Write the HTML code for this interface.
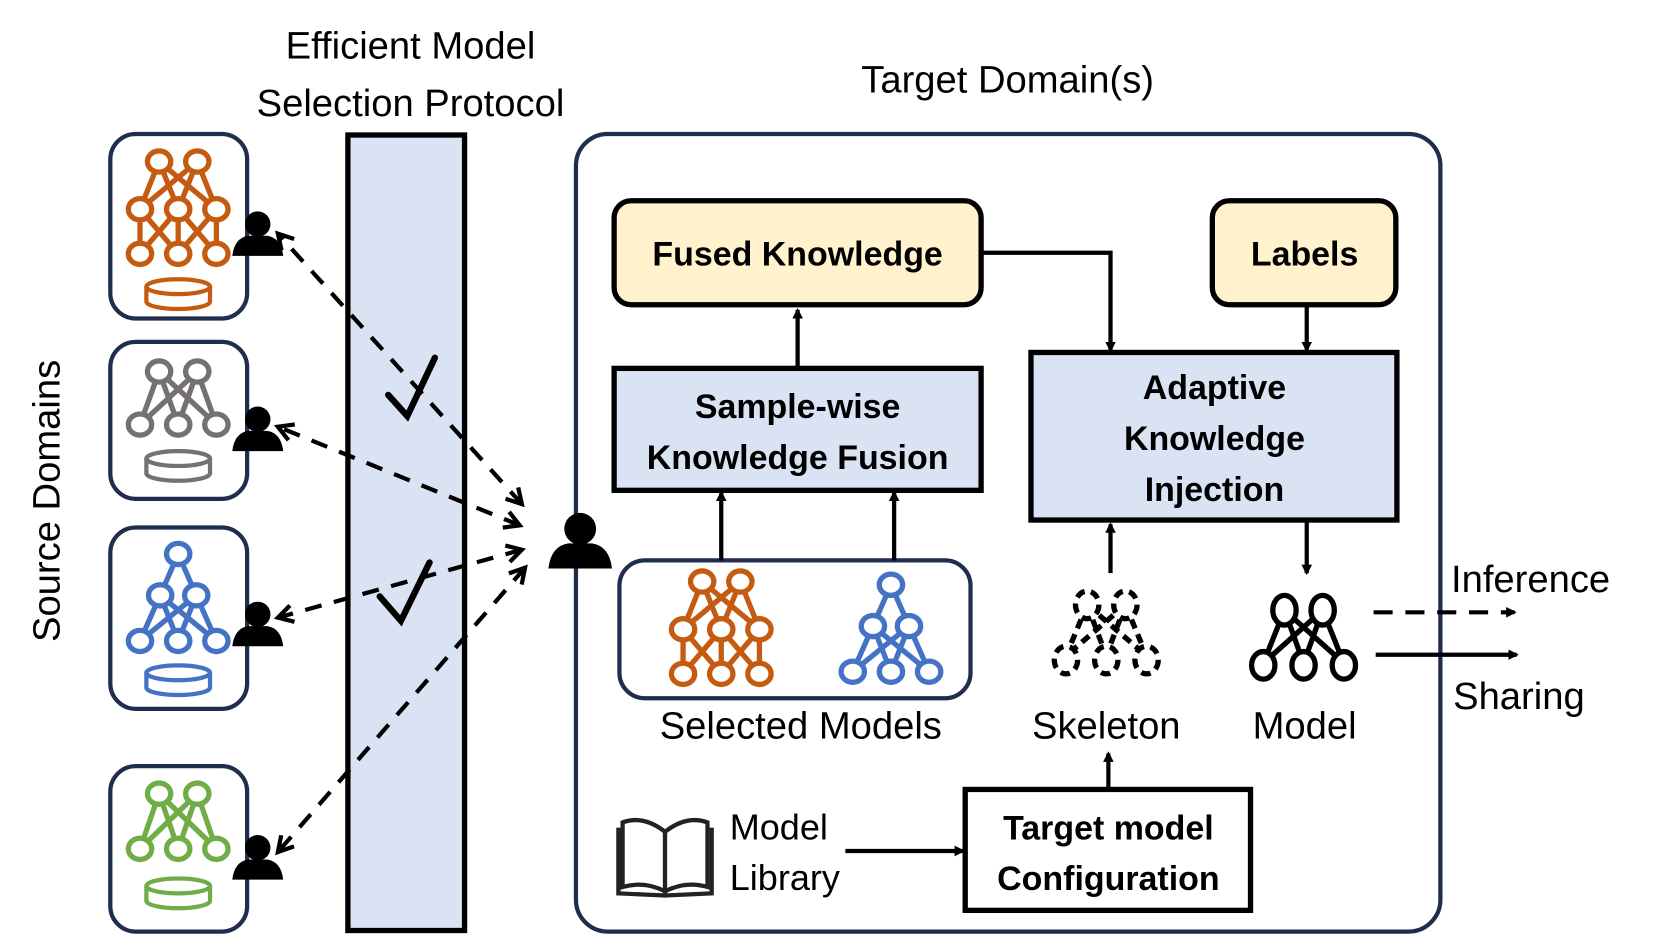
<!DOCTYPE html>
<html><head><meta charset="utf-8"><style>
html,body{margin:0;padding:0;background:#fff;}
svg{display:block;}
text{font-family:"Liberation Sans","DejaVu Sans",sans-serif;}
</style></head><body>
<svg width="1661" height="934" viewBox="0 0 1566 880" xmlns="http://www.w3.org/2000/svg">
<defs>
<marker id="ah" markerWidth="10" markerHeight="10" refX="8" refY="5" orient="auto" markerUnits="userSpaceOnUse">
<path d="M0,0 L10,5 L0,10 z" fill="#000"/></marker>
<marker id="ao" markerWidth="20" markerHeight="20" refX="16" refY="10" orient="auto" markerUnits="userSpaceOnUse">
<path d="M2,2 L16,10 L2,18" fill="none" stroke="#000" stroke-width="4"/></marker>
<marker id="as" markerWidth="20" markerHeight="20" refX="4" refY="10" orient="auto" markerUnits="userSpaceOnUse">
<path d="M18,2 L4,10 L18,18" fill="none" stroke="#000" stroke-width="4"/></marker>
<g id="person"><circle cx="0" cy="-11" r="12"/><path d="M-24,19 Q-22,2 -9,0 L9,0 Q22,2 24,19 z"/></g>
<g id="db" fill="none" stroke-width="4"><ellipse cx="0" cy="0" rx="30" ry="7"/><path d="M-30,0 V14 A30,7 0 0 0 30,14 V0"/></g>
</defs>

<text x="387" y="55" font-size="36" text-anchor="middle">Efficient Model</text>
<text x="387" y="109" font-size="36" text-anchor="middle">Selection Protocol</text>
<text x="950" y="87" font-size="36" text-anchor="middle">Target Domain(s)</text>
<text transform="translate(56,472) rotate(-90)" font-size="36" text-anchor="middle">Source Domains</text>

<rect x="328" y="127" width="110" height="750" fill="#dae3f3" stroke="#000" stroke-width="5"/>

<g fill="none" stroke="#1f2d4e" stroke-width="4">
<rect x="104" y="126" width="129" height="174" rx="24"/>
<rect x="104" y="322" width="129" height="148" rx="24"/>
<rect x="104" y="497" width="129" height="171" rx="24"/>
<rect x="104" y="722" width="129" height="156" rx="24"/>
<rect x="543" y="126" width="815" height="752" rx="30"/>
<rect x="584" y="528" width="331" height="130" rx="24"/>
</g>

<g stroke="#c55a11" fill="none" stroke-width="5" transform="translate(168,152)">
<path d="M-18,0 L-36,45 M-18,0 L0,45 M-18,0 L36,45 M18,0 L-36,45 M18,0 L0,45 M18,0 L36,45 M-36,45 V87 M0,45 V87 M36,45 V87 M-36,45 L0,87 M0,45 L-36,87 M0,45 L36,87 M36,45 L0,87"/>
<g fill="#fff"><ellipse cx="-18" cy="0" rx="11" ry="10"/><ellipse cx="18" cy="0" rx="11" ry="10"/>
<ellipse cx="-36" cy="45" rx="11" ry="10"/><ellipse cx="0" cy="45" rx="11" ry="10"/><ellipse cx="36" cy="45" rx="11" ry="10"/>
<ellipse cx="-36" cy="87" rx="11" ry="10"/><ellipse cx="0" cy="87" rx="11" ry="10"/><ellipse cx="36" cy="87" rx="11" ry="10"/></g>
<use href="#db" y="118"/>
</g>
<g stroke="#767171" fill="none" stroke-width="5" transform="translate(168,350)">
<path d="M-18,0 L-36,50 M-18,0 L0,50 M-18,0 L36,50 M18,0 L-36,50 M18,0 L0,50 M18,0 L36,50"/>
<g fill="#fff"><ellipse cx="-18" cy="0" rx="11" ry="10"/><ellipse cx="18" cy="0" rx="11" ry="10"/>
<ellipse cx="-36" cy="50" rx="11" ry="10"/><ellipse cx="0" cy="50" rx="11" ry="10"/><ellipse cx="36" cy="50" rx="11" ry="10"/></g>
<use href="#db" y="82"/>
</g>
<g stroke="#4472c4" fill="none" stroke-width="5" transform="translate(168,522)">
<path d="M0,0 L-17,39 M0,0 L17,39 M-17,39 L-36,82 M-17,39 L0,82 M-17,39 L36,82 M17,39 L-36,82 M17,39 L0,82 M17,39 L36,82"/>
<g fill="#fff"><ellipse cx="0" cy="0" rx="11" ry="10"/><ellipse cx="-17" cy="39" rx="11" ry="10"/><ellipse cx="17" cy="39" rx="11" ry="10"/>
<ellipse cx="-36" cy="82" rx="11" ry="10"/><ellipse cx="0" cy="82" rx="11" ry="10"/><ellipse cx="36" cy="82" rx="11" ry="10"/></g>
<use href="#db" y="112"/>
</g>
<g stroke="#70ad47" fill="none" stroke-width="5" transform="translate(168,748)">
<path d="M-18,0 L-36,52 M-18,0 L0,52 M-18,0 L36,52 M18,0 L-36,52 M18,0 L0,52 M18,0 L36,52"/>
<g fill="#fff"><ellipse cx="-18" cy="0" rx="11" ry="10"/><ellipse cx="18" cy="0" rx="11" ry="10"/>
<ellipse cx="-36" cy="52" rx="11" ry="10"/><ellipse cx="0" cy="52" rx="11" ry="10"/><ellipse cx="36" cy="52" rx="11" ry="10"/></g>
<use href="#db" y="87"/>
</g>

<use href="#person" x="243" y="222"/>
<use href="#person" x="243" y="406"/>
<use href="#person" x="243" y="590"/>
<use href="#person" x="243" y="810"/>
<g transform="translate(547,512) scale(1.25)"><use href="#person"/></g>

<g stroke="#000" stroke-width="4" fill="none" stroke-dasharray="16,12">
<path d="M492,475 L262,220" marker-end="url(#ao)" marker-start="url(#as)"/>
<path d="M490,495 L262,402" marker-end="url(#ao)" marker-start="url(#as)"/>
<path d="M492,518 L262,582" marker-end="url(#ao)" marker-start="url(#as)"/>
<path d="M495,535 L262,803" marker-end="url(#ao)" marker-start="url(#as)"/>
</g>
<g stroke="#000" stroke-width="6" fill="none" stroke-linecap="round">
<path d="M366,372 L384,392 L410,337"/>
<path d="M358,562 L378,585 L405,530"/>
</g>

<rect x="579" y="189" width="346" height="98" rx="16" fill="#fff2cc" stroke="#000" stroke-width="5"/>
<text x="752" y="250" font-size="32" font-weight="bold" text-anchor="middle">Fused Knowledge</text>
<rect x="1143" y="189" width="173" height="98" rx="16" fill="#fff2cc" stroke="#000" stroke-width="5"/>
<text x="1230" y="250" font-size="32" font-weight="bold" text-anchor="middle">Labels</text>
<rect x="579" y="347" width="346" height="115" fill="#dae3f3" stroke="#000" stroke-width="5"/>
<text x="752" y="394" font-size="32" font-weight="bold" text-anchor="middle">Sample-wise</text>
<text x="752" y="442" font-size="32" font-weight="bold" text-anchor="middle">Knowledge Fusion</text>
<rect x="972" y="332" width="345" height="158" fill="#dae3f3" stroke="#000" stroke-width="5"/>
<text x="1145" y="376" font-size="32" font-weight="bold" text-anchor="middle">Adaptive</text>
<text x="1145" y="424" font-size="32" font-weight="bold" text-anchor="middle">Knowledge</text>
<text x="1145" y="472" font-size="32" font-weight="bold" text-anchor="middle">Injection</text>
<rect x="910" y="744" width="269" height="114" fill="#fff" stroke="#000" stroke-width="5"/>
<text x="1045" y="791" font-size="32" font-weight="bold" text-anchor="middle">Target model</text>
<text x="1045" y="839" font-size="32" font-weight="bold" text-anchor="middle">Configuration</text>

<g stroke="#000" stroke-width="4" fill="none">
<path d="M752,347 V292" marker-end="url(#ah)"/>
<path d="M680,528 V464" marker-end="url(#ah)"/>
<path d="M843,528 V464" marker-end="url(#ah)"/>
<path d="M925,238 H1047 V330" marker-end="url(#ah)"/>
<path d="M1232,287 V330" marker-end="url(#ah)"/>
<path d="M1232,490 V540" marker-end="url(#ah)"/>
<path d="M1047,540 V494" marker-end="url(#ah)"/>
<path d="M1045,744 V710" marker-end="url(#ah)"/>
<path d="M797,802 H908" marker-end="url(#ah)"/>
<path d="M1297,617 H1430" marker-end="url(#ah)"/>
<path d="M1295,577 H1428" stroke-dasharray="18,12" marker-end="url(#ah)"/>
</g>

<g stroke="#c55a11" fill="none" stroke-width="5" transform="translate(680,548)">
<path d="M-18,0 L-36,45 M-18,0 L0,45 M-18,0 L36,45 M18,0 L-36,45 M18,0 L0,45 M18,0 L36,45 M-36,45 V87 M0,45 V87 M36,45 V87 M-36,45 L0,87 M0,45 L-36,87 M0,45 L36,87 M36,45 L0,87"/>
<g fill="#fff"><ellipse cx="-18" cy="0" rx="11" ry="10"/><ellipse cx="18" cy="0" rx="11" ry="10"/>
<ellipse cx="-36" cy="45" rx="11" ry="10"/><ellipse cx="0" cy="45" rx="11" ry="10"/><ellipse cx="36" cy="45" rx="11" ry="10"/>
<ellipse cx="-36" cy="87" rx="11" ry="10"/><ellipse cx="0" cy="87" rx="11" ry="10"/><ellipse cx="36" cy="87" rx="11" ry="10"/></g>
</g>
<g stroke="#4472c4" fill="none" stroke-width="5" transform="translate(840,551)">
<path d="M0,0 L-17,39 M0,0 L17,39 M-17,39 L-36,82 M-17,39 L0,82 M-17,39 L36,82 M17,39 L-36,82 M17,39 L0,82 M17,39 L36,82"/>
<g fill="#fff"><ellipse cx="0" cy="0" rx="11" ry="10"/><ellipse cx="-17" cy="39" rx="11" ry="10"/><ellipse cx="17" cy="39" rx="11" ry="10"/>
<ellipse cx="-36" cy="82" rx="11" ry="10"/><ellipse cx="0" cy="82" rx="11" ry="10"/><ellipse cx="36" cy="82" rx="11" ry="10"/></g>
</g>

<g stroke="#000" fill="none" stroke-width="5" transform="translate(1043,570)" stroke-dasharray="9,6">
<path d="M-18,0 L-38,48 M-18,0 L0,48 M-18,0 L38,48 M18,0 L-38,48 M18,0 L0,48 M18,0 L38,48"/>
<g fill="#fff"><ellipse cx="-18" cy="0" rx="11" ry="13"/><ellipse cx="18" cy="0" rx="11" ry="13"/>
<ellipse cx="-38" cy="52" rx="11" ry="13"/><ellipse cx="0" cy="52" rx="11" ry="13"/><ellipse cx="38" cy="52" rx="11" ry="13"/></g>
</g>
<g stroke="#000" fill="none" stroke-width="5" transform="translate(1229,575)">
<path d="M-18,0 L-38,50 M-18,0 L0,50 M-18,0 L38,50 M18,0 L-38,50 M18,0 L0,50 M18,0 L38,50"/>
<g fill="#fff"><ellipse cx="-18" cy="0" rx="11" ry="14"/><ellipse cx="18" cy="0" rx="11" ry="14"/>
<ellipse cx="-38" cy="52" rx="11" ry="13"/><ellipse cx="0" cy="52" rx="11" ry="13"/><ellipse cx="38" cy="52" rx="11" ry="13"/></g>
</g>

<g stroke="#222" stroke-width="4" fill="#fff" transform="translate(627,810)">
<path d="M-44,-30 V32 L0,34 L44,32 V-30"/>
<path d="M-40,-35 Q-20,-42 0,-26 V30 Q-20,20 -40,26 z"/>
<path d="M40,-35 Q20,-42 0,-26 V30 Q20,20 40,26 z"/>
</g>

<text x="755" y="696" font-size="36" text-anchor="middle">Selected Models</text>
<text x="1043" y="696" font-size="36" text-anchor="middle">Skeleton</text>
<text x="1230" y="696" font-size="36" text-anchor="middle">Model</text>
<text x="1368" y="558" font-size="36">Inference</text>
<text x="1370" y="668" font-size="36">Sharing</text>
<text x="688" y="791" font-size="34">Model</text>
<text x="688" y="839" font-size="34">Library</text>
</svg>
</body></html>
